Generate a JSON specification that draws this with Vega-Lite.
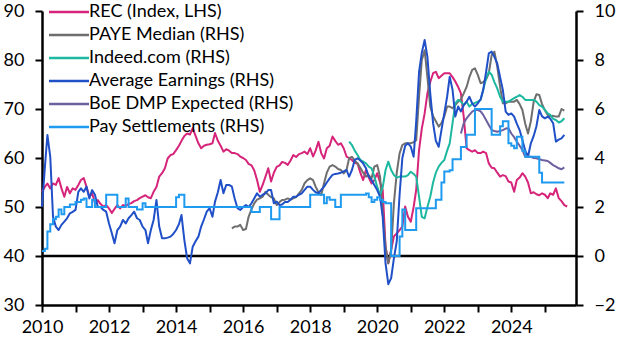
{
"$schema": "https://vega.github.io/schema/vega-lite/v6.json",
"width": 534, "height": 294,
"autosize": {"type": "none"},
"padding": {"left": 42, "top": 11, "right": 51, "bottom": 47},
"background": "white",
"config": {"view": {"stroke": null}, "font": "Lato",
  "axis": {"domainColor": "black", "domainWidth": 2.5, "tickColor": "black", "tickWidth": 2, "tickSize": 7, "labelFont": "Lato", "labelFontSize": 18, "labelColor": "black", "grid": false, "title": null}},
"datasets": {
"rec": [
{"d":"2010-01","v":53.1},{"d":"2010-02","v":54.1},{"d":"2010-03","v":54.8},{"d":"2010-04","v":53.8},{"d":"2010-05","v":54.8},{"d":"2010-06","v":54.5},{"d":"2010-07","v":55.9},{"d":"2010-08","v":53.8},{"d":"2010-09","v":52.1},{"d":"2010-10","v":54.1},{"d":"2010-11","v":52.8},{"d":"2010-12","v":53.8},
{"d":"2011-01","v":53.5},{"d":"2011-02","v":54.5},{"d":"2011-03","v":55.5},{"d":"2011-04","v":55.9},{"d":"2011-05","v":54.1},{"d":"2011-06","v":52.1},{"d":"2011-07","v":52.8},{"d":"2011-08","v":50.8},{"d":"2011-09","v":51.4},{"d":"2011-10","v":50.6},{"d":"2011-11","v":50.1},{"d":"2011-12","v":50.4},
{"d":"2012-01","v":49.7},{"d":"2012-02","v":48.8},{"d":"2012-03","v":49.6},{"d":"2012-04","v":50.4},{"d":"2012-05","v":49.7},{"d":"2012-06","v":50.4},{"d":"2012-07","v":50.2},{"d":"2012-08","v":50.6},{"d":"2012-09","v":50.8},{"d":"2012-10","v":51.2},{"d":"2012-11","v":51.4},{"d":"2012-12","v":51.8},
{"d":"2013-01","v":52.1},{"d":"2013-02","v":52.4},{"d":"2013-03","v":52.0},{"d":"2013-04","v":51.8},{"d":"2013-05","v":53.1},{"d":"2013-06","v":54.1},{"d":"2013-07","v":56.2},{"d":"2013-08","v":56.9},{"d":"2013-09","v":57.9},{"d":"2013-10","v":59.9},{"d":"2013-11","v":60.6},{"d":"2013-12","v":60.8},
{"d":"2014-01","v":61.6},{"d":"2014-02","v":62.5},{"d":"2014-03","v":63.5},{"d":"2014-04","v":64.5},{"d":"2014-05","v":65},{"d":"2014-06","v":64.8},{"d":"2014-07","v":66.1},{"d":"2014-08","v":64.5},{"d":"2014-09","v":63},{"d":"2014-10","v":62},{"d":"2014-11","v":62.5},{"d":"2014-12","v":62.7},
{"d":"2015-01","v":62.8},{"d":"2015-02","v":63},{"d":"2015-03","v":65.1},{"d":"2015-04","v":63.5},{"d":"2015-05","v":62.5},{"d":"2015-06","v":61.3},{"d":"2015-07","v":61.8},{"d":"2015-08","v":61.5},{"d":"2015-09","v":61},{"d":"2015-10","v":61},{"d":"2015-11","v":60.8},{"d":"2015-12","v":60.3},
{"d":"2016-01","v":60},{"d":"2016-02","v":59.6},{"d":"2016-03","v":58.8},{"d":"2016-04","v":58.5},{"d":"2016-05","v":57.5},{"d":"2016-06","v":55.5},{"d":"2016-07","v":53.1},{"d":"2016-08","v":54.5},{"d":"2016-09","v":56.2},{"d":"2016-10","v":57.9},{"d":"2016-11","v":55.2},{"d":"2016-12","v":57},
{"d":"2017-01","v":58.2},{"d":"2017-02","v":58.5},{"d":"2017-03","v":59.2},{"d":"2017-04","v":59},{"d":"2017-05","v":58.6},{"d":"2017-06","v":59.5},{"d":"2017-07","v":60.6},{"d":"2017-08","v":60.2},{"d":"2017-09","v":60.8},{"d":"2017-10","v":61},{"d":"2017-11","v":61.3},{"d":"2017-12","v":60.8},
{"d":"2018-01","v":62},{"d":"2018-02","v":60.3},{"d":"2018-03","v":61.5},{"d":"2018-04","v":63.3},{"d":"2018-05","v":61},{"d":"2018-06","v":59.9},{"d":"2018-07","v":62},{"d":"2018-08","v":62.5},{"d":"2018-09","v":64.4},{"d":"2018-10","v":63.5},{"d":"2018-11","v":62.7},{"d":"2018-12","v":63},
{"d":"2019-01","v":62},{"d":"2019-02","v":60.3},{"d":"2019-03","v":60},{"d":"2019-04","v":59.6},{"d":"2019-05","v":59},{"d":"2019-06","v":58.9},{"d":"2019-07","v":57},{"d":"2019-08","v":55.5},{"d":"2019-09","v":57.6},{"d":"2019-10","v":56},{"d":"2019-11","v":54.8},{"d":"2019-12","v":55.5},
{"d":"2020-01","v":56.9},{"d":"2020-02","v":55},{"d":"2020-03","v":53.5},{"d":"2020-04","v":41.9},{"d":"2020-05","v":38.5},{"d":"2020-06","v":41.2},{"d":"2020-07","v":44},{"d":"2020-08","v":44.6},{"d":"2020-09","v":45.3},{"d":"2020-10","v":46},{"d":"2020-11","v":50.1},{"d":"2020-12","v":48},
{"d":"2021-01","v":47},{"d":"2021-02","v":50},{"d":"2021-03","v":53.5},{"d":"2021-04","v":61.6},{"d":"2021-05","v":66},{"d":"2021-06","v":69.1},{"d":"2021-07","v":73.2},{"d":"2021-08","v":75.5},{"d":"2021-09","v":77.3},{"d":"2021-10","v":77.6},{"d":"2021-11","v":76.3},{"d":"2021-12","v":76.8},
{"d":"2022-01","v":77.3},{"d":"2022-02","v":77.3},{"d":"2022-03","v":77.3},{"d":"2022-04","v":76.5},{"d":"2022-05","v":75.6},{"d":"2022-06","v":74.5},{"d":"2022-07","v":73.2},{"d":"2022-08","v":68.4},{"d":"2022-09","v":62},{"d":"2022-10","v":61.6},{"d":"2022-11","v":61.3},{"d":"2022-12","v":61.6},
{"d":"2023-01","v":61},{"d":"2023-02","v":61},{"d":"2023-03","v":61.3},{"d":"2023-04","v":61},{"d":"2023-05","v":58.9},{"d":"2023-06","v":58},{"d":"2023-07","v":57.9},{"d":"2023-08","v":57},{"d":"2023-09","v":56.2},{"d":"2023-10","v":56.5},{"d":"2023-11","v":56.3},{"d":"2023-12","v":55.2},
{"d":"2024-01","v":55},{"d":"2024-02","v":53.1},{"d":"2024-03","v":55.5},{"d":"2024-04","v":56},{"d":"2024-05","v":56.9},{"d":"2024-06","v":56.2},{"d":"2024-07","v":55},{"d":"2024-08","v":52.8},{"d":"2024-09","v":53},{"d":"2024-10","v":52.6},{"d":"2024-11","v":52.4},{"d":"2024-12","v":52.8},
{"d":"2025-01","v":52.5},{"d":"2025-02","v":51.8},{"d":"2025-03","v":52.8},{"d":"2025-04","v":52.5},{"d":"2025-05","v":53.8},{"d":"2025-06","v":51.8},{"d":"2025-07","v":51.2},{"d":"2025-08","v":50.4},{"d":"2025-09","v":50.1}
],
"paye": [
{"d":"2015-09","v":1.13},{"d":"2015-10","v":1.2},{"d":"2015-11","v":1.2},{"d":"2015-12","v":1.27},
{"d":"2016-01","v":1.06},{"d":"2016-02","v":1.1},{"d":"2016-03","v":1.6},{"d":"2016-04","v":1.9},{"d":"2016-05","v":2.15},{"d":"2016-06","v":2.3},{"d":"2016-07","v":2.35},{"d":"2016-08","v":2.42},{"d":"2016-09","v":2.62},{"d":"2016-10","v":2.5},{"d":"2016-11","v":2.4},{"d":"2016-12","v":2.35},
{"d":"2017-01","v":2.08},{"d":"2017-02","v":2.2},{"d":"2017-03","v":2.29},{"d":"2017-04","v":2.3},{"d":"2017-05","v":2.35},{"d":"2017-06","v":2.3},{"d":"2017-07","v":2.35},{"d":"2017-08","v":2.4},{"d":"2017-09","v":2.56},{"d":"2017-10","v":2.7},{"d":"2017-11","v":2.97},{"d":"2017-12","v":3.1},
{"d":"2018-01","v":3.17},{"d":"2018-02","v":3.1},{"d":"2018-03","v":2.83},{"d":"2018-04","v":2.6},{"d":"2018-05","v":2.49},{"d":"2018-06","v":2.97},{"d":"2018-07","v":3.4},{"d":"2018-08","v":3.65},{"d":"2018-09","v":3.71},{"d":"2018-10","v":3.65},{"d":"2018-11","v":3.55},{"d":"2018-12","v":3.51},
{"d":"2019-01","v":3.37},{"d":"2019-02","v":3.51},{"d":"2019-03","v":3.99},{"d":"2019-04","v":4.05},{"d":"2019-05","v":3.9},{"d":"2019-06","v":3.78},{"d":"2019-07","v":3.6},{"d":"2019-08","v":3.4},{"d":"2019-09","v":3.24},{"d":"2019-10","v":3.3},{"d":"2019-11","v":3.17},{"d":"2019-12","v":3.65},
{"d":"2020-01","v":3.71},{"d":"2020-02","v":3.24},{"d":"2020-03","v":1.74},{"d":"2020-04","v":0.38},{"d":"2020-05","v":-0.3},{"d":"2020-06","v":0.24},{"d":"2020-07","v":2.15},{"d":"2020-08","v":3.4},{"d":"2020-09","v":4.19},{"d":"2020-10","v":4.53},{"d":"2020-11","v":4.6},{"d":"2020-12","v":4.6},
{"d":"2021-01","v":4.6},{"d":"2021-02","v":4.65},{"d":"2021-03","v":4.73},{"d":"2021-04","v":6.5},{"d":"2021-05","v":8.0},{"d":"2021-06","v":8.4},{"d":"2021-07","v":7.3},{"d":"2021-08","v":6.1},{"d":"2021-09","v":5.7},{"d":"2021-10","v":5.5},{"d":"2021-11","v":5.28},{"d":"2021-12","v":5.42},
{"d":"2022-01","v":5.7},{"d":"2022-02","v":6.1},{"d":"2022-03","v":6.1},{"d":"2022-04","v":6.03},{"d":"2022-05","v":6.16},{"d":"2022-06","v":6.3},{"d":"2022-07","v":6.4},{"d":"2022-08","v":6.64},{"d":"2022-09","v":6.9},{"d":"2022-10","v":7.3},{"d":"2022-11","v":7.6},{"d":"2022-12","v":7.66},
{"d":"2023-01","v":7.39},{"d":"2023-02","v":7.05},{"d":"2023-03","v":7.1},{"d":"2023-04","v":7.2},{"d":"2023-05","v":7.46},{"d":"2023-06","v":8.2},{"d":"2023-07","v":8.34},{"d":"2023-08","v":7.73},{"d":"2023-09","v":6.91},{"d":"2023-10","v":6.23},{"d":"2023-11","v":6.23},{"d":"2023-12","v":6.3},
{"d":"2024-01","v":6.3},{"d":"2024-02","v":6.3},{"d":"2024-03","v":6.37},{"d":"2024-04","v":6.2},{"d":"2024-05","v":5.96},{"d":"2024-06","v":5.4},{"d":"2024-07","v":5.0},{"d":"2024-08","v":5.5},{"d":"2024-09","v":6.3},{"d":"2024-10","v":6.6},{"d":"2024-11","v":6.57},{"d":"2024-12","v":6.2},
{"d":"2025-01","v":5.95},{"d":"2025-02","v":5.76},{"d":"2025-03","v":5.7},{"d":"2025-04","v":5.72},{"d":"2025-05","v":5.69},{"d":"2025-06","v":5.69},{"d":"2025-07","v":6.0},{"d":"2025-08","v":5.93}
],
"indeed": [
{"d":"2019-03","v":4.67},{"d":"2019-04","v":4.53},{"d":"2019-05","v":4.3},{"d":"2019-06","v":4.12},{"d":"2019-07","v":3.92},{"d":"2019-08","v":3.85},{"d":"2019-09","v":3.78},{"d":"2019-10","v":3.65},{"d":"2019-11","v":3.58},{"d":"2019-12","v":3.24},
{"d":"2020-01","v":2.83},{"d":"2020-02","v":2.5},{"d":"2020-03","v":2.8},{"d":"2020-04","v":3.51},{"d":"2020-05","v":3.85},{"d":"2020-06","v":3.51},{"d":"2020-07","v":3.31},{"d":"2020-08","v":3.2},{"d":"2020-09","v":3.24},{"d":"2020-10","v":3.24},{"d":"2020-11","v":3.24},{"d":"2020-12","v":3.3},
{"d":"2021-01","v":3.44},{"d":"2021-02","v":3.35},{"d":"2021-03","v":3.24},{"d":"2021-04","v":2.42},{"d":"2021-05","v":1.6},{"d":"2021-06","v":1.54},{"d":"2021-07","v":2.0},{"d":"2021-08","v":2.42},{"d":"2021-09","v":3.0},{"d":"2021-10","v":3.4},{"d":"2021-11","v":3.65},{"d":"2021-12","v":3.8},
{"d":"2022-01","v":3.92},{"d":"2022-02","v":4.3},{"d":"2022-03","v":4.6},{"d":"2022-04","v":5.42},{"d":"2022-05","v":6.23},{"d":"2022-06","v":6.37},{"d":"2022-07","v":6.3},{"d":"2022-08","v":6.16},{"d":"2022-09","v":6.3},{"d":"2022-10","v":6.1},{"d":"2022-11","v":6.2},{"d":"2022-12","v":6.25},
{"d":"2023-01","v":6.3},{"d":"2023-02","v":6.37},{"d":"2023-03","v":6.78},{"d":"2023-04","v":7.25},{"d":"2023-05","v":7.52},{"d":"2023-06","v":7.4},{"d":"2023-07","v":7.1},{"d":"2023-08","v":6.84},{"d":"2023-09","v":6.5},{"d":"2023-10","v":6.3},{"d":"2023-11","v":6.3},{"d":"2023-12","v":6.3},
{"d":"2024-01","v":6.37},{"d":"2024-02","v":6.44},{"d":"2024-03","v":6.5},{"d":"2024-04","v":6.57},{"d":"2024-05","v":6.5},{"d":"2024-06","v":6.37},{"d":"2024-07","v":6.37},{"d":"2024-08","v":6.37},{"d":"2024-09","v":6.37},{"d":"2024-10","v":6.3},{"d":"2024-11","v":6.16},{"d":"2024-12","v":6.1},
{"d":"2025-01","v":5.96},{"d":"2025-02","v":5.82},{"d":"2025-03","v":5.76},{"d":"2025-04","v":5.6},{"d":"2025-05","v":5.55},{"d":"2025-06","v":5.45},{"d":"2025-07","v":5.5},{"d":"2025-08","v":5.62}
],
"ae": [
{"d":"2010-01","v":2.0},{"d":"2010-02","v":3.6},{"d":"2010-03","v":4.94},{"d":"2010-04","v":4.05},{"d":"2010-05","v":1.6},{"d":"2010-06","v":1.2},{"d":"2010-07","v":1.06},{"d":"2010-08","v":1.27},{"d":"2010-09","v":1.4},{"d":"2010-10","v":1.54},{"d":"2010-11","v":1.74},{"d":"2010-12","v":1.8},
{"d":"2011-01","v":1.88},{"d":"2011-02","v":2.62},{"d":"2011-03","v":2.76},{"d":"2011-04","v":2.62},{"d":"2011-05","v":2.83},{"d":"2011-06","v":2.35},{"d":"2011-07","v":2.69},{"d":"2011-08","v":2.5},{"d":"2011-09","v":2.0},{"d":"2011-10","v":2.0},{"d":"2011-11","v":1.88},{"d":"2011-12","v":1.81},
{"d":"2012-01","v":1.33},{"d":"2012-02","v":0.93},{"d":"2012-03","v":0.52},{"d":"2012-04","v":1.06},{"d":"2012-05","v":1.2},{"d":"2012-06","v":1.47},{"d":"2012-07","v":1.33},{"d":"2012-08","v":1.54},{"d":"2012-09","v":1.67},{"d":"2012-10","v":1.81},{"d":"2012-11","v":1.54},{"d":"2012-12","v":1.47},
{"d":"2013-01","v":1.2},{"d":"2013-02","v":1.06},{"d":"2013-03","v":0.52},{"d":"2013-04","v":1.06},{"d":"2013-05","v":1.47},{"d":"2013-06","v":2.29},{"d":"2013-07","v":1.2},{"d":"2013-08","v":0.72},{"d":"2013-09","v":0.72},{"d":"2013-10","v":0.75},{"d":"2013-11","v":0.79},{"d":"2013-12","v":0.9},
{"d":"2014-01","v":1.06},{"d":"2014-02","v":1.3},{"d":"2014-03","v":1.67},{"d":"2014-04","v":0.65},{"d":"2014-05","v":-0.09},{"d":"2014-06","v":-0.3},{"d":"2014-07","v":0.38},{"d":"2014-08","v":0.6},{"d":"2014-09","v":0.79},{"d":"2014-10","v":1.2},{"d":"2014-11","v":1.5},{"d":"2014-12","v":1.81},
{"d":"2015-01","v":1.95},{"d":"2015-02","v":1.6},{"d":"2015-03","v":2.22},{"d":"2015-04","v":2.6},{"d":"2015-05","v":3.1},{"d":"2015-06","v":2.56},{"d":"2015-07","v":2.9},{"d":"2015-08","v":2.9},{"d":"2015-09","v":2.83},{"d":"2015-10","v":2.35},{"d":"2015-11","v":1.95},{"d":"2015-12","v":1.88},
{"d":"2016-01","v":2.0},{"d":"2016-02","v":2.08},{"d":"2016-03","v":2.0},{"d":"2016-04","v":2.15},{"d":"2016-05","v":2.35},{"d":"2016-06","v":2.56},{"d":"2016-07","v":2.42},{"d":"2016-08","v":2.5},{"d":"2016-09","v":2.56},{"d":"2016-10","v":2.69},{"d":"2016-11","v":2.69},{"d":"2016-12","v":2.15},
{"d":"2017-01","v":2.22},{"d":"2017-02","v":2.08},{"d":"2017-03","v":2.1},{"d":"2017-04","v":2.2},{"d":"2017-05","v":2.2},{"d":"2017-06","v":2.3},{"d":"2017-07","v":2.42},{"d":"2017-08","v":2.42},{"d":"2017-09","v":2.5},{"d":"2017-10","v":2.56},{"d":"2017-11","v":2.7},{"d":"2017-12","v":2.83},
{"d":"2018-01","v":2.83},{"d":"2018-02","v":2.7},{"d":"2018-03","v":2.6},{"d":"2018-04","v":2.56},{"d":"2018-05","v":2.7},{"d":"2018-06","v":2.83},{"d":"2018-07","v":3.0},{"d":"2018-08","v":3.17},{"d":"2018-09","v":3.31},{"d":"2018-10","v":3.35},{"d":"2018-11","v":3.37},{"d":"2018-12","v":3.4},
{"d":"2019-01","v":3.45},{"d":"2019-02","v":3.51},{"d":"2019-03","v":3.24},{"d":"2019-04","v":3.51},{"d":"2019-05","v":3.92},{"d":"2019-06","v":3.99},{"d":"2019-07","v":3.9},{"d":"2019-08","v":3.78},{"d":"2019-09","v":3.58},{"d":"2019-10","v":3.24},{"d":"2019-11","v":3.1},{"d":"2019-12","v":2.9},
{"d":"2020-01","v":2.69},{"d":"2020-02","v":2.42},{"d":"2020-03","v":1.6},{"d":"2020-04","v":-0.3},{"d":"2020-05","v":-1.15},{"d":"2020-06","v":-0.9},{"d":"2020-07","v":-0.1},{"d":"2020-08","v":0.6},{"d":"2020-09","v":2.5},{"d":"2020-10","v":4.0},{"d":"2020-11","v":4.5},{"d":"2020-12","v":4.6},
{"d":"2021-01","v":4.46},{"d":"2021-02","v":4.05},{"d":"2021-03","v":5.5},{"d":"2021-04","v":7.5},{"d":"2021-05","v":8.3},{"d":"2021-06","v":8.82},{"d":"2021-07","v":8.13},{"d":"2021-08","v":6.64},{"d":"2021-09","v":5.42},{"d":"2021-10","v":4.7},{"d":"2021-11","v":4.46},{"d":"2021-12","v":5.14},
{"d":"2022-01","v":5.82},{"d":"2022-02","v":6.5},{"d":"2022-03","v":7.32},{"d":"2022-04","v":6.78},{"d":"2022-05","v":5.69},{"d":"2022-06","v":6.1},{"d":"2022-07","v":5.9},{"d":"2022-08","v":6.16},{"d":"2022-09","v":6.3},{"d":"2022-10","v":6.5},{"d":"2022-11","v":6.23},{"d":"2022-12","v":6.1},
{"d":"2023-01","v":6.23},{"d":"2023-02","v":6.4},{"d":"2023-03","v":6.78},{"d":"2023-04","v":7.5},{"d":"2023-05","v":8.27},{"d":"2023-06","v":8.34},{"d":"2023-07","v":8.13},{"d":"2023-08","v":7.86},{"d":"2023-09","v":7.3},{"d":"2023-10","v":6.78},{"d":"2023-11","v":5.89},{"d":"2023-12","v":5.76},
{"d":"2024-01","v":5.82},{"d":"2024-02","v":5.69},{"d":"2024-03","v":5.4},{"d":"2024-04","v":5.14},{"d":"2024-05","v":4.73},{"d":"2024-06","v":4.3},{"d":"2024-07","v":4.05},{"d":"2024-08","v":4.6},{"d":"2024-09","v":4.9},{"d":"2024-10","v":5.3},{"d":"2024-11","v":5.96},{"d":"2024-12","v":5.7},
{"d":"2025-01","v":5.62},{"d":"2025-02","v":5.69},{"d":"2025-03","v":5.6},{"d":"2025-04","v":5.42},{"d":"2025-05","v":4.67},{"d":"2025-06","v":4.75},{"d":"2025-07","v":4.8},{"d":"2025-08","v":4.94}
],
"boe": [
{"d":"2022-07","v":5.0},{"d":"2022-08","v":5.42},{"d":"2022-09","v":5.62},{"d":"2022-10","v":5.76},{"d":"2022-11","v":5.89},{"d":"2022-12","v":5.96},
{"d":"2023-01","v":5.96},{"d":"2023-02","v":5.9},{"d":"2023-03","v":5.76},{"d":"2023-04","v":5.55},{"d":"2023-05","v":5.35},{"d":"2023-06","v":5.14},{"d":"2023-07","v":5.1},{"d":"2023-08","v":5.07},{"d":"2023-09","v":5.1},{"d":"2023-10","v":5.14},{"d":"2023-11","v":5.2},{"d":"2023-12","v":5.21},
{"d":"2024-01","v":5.0},{"d":"2024-02","v":4.85},{"d":"2024-03","v":4.67},{"d":"2024-04","v":4.5},{"d":"2024-05","v":4.33},{"d":"2024-06","v":4.05},{"d":"2024-07","v":4.05},{"d":"2024-08","v":4.05},{"d":"2024-09","v":4.0},{"d":"2024-10","v":3.99},{"d":"2024-11","v":3.95},{"d":"2024-12","v":3.92},
{"d":"2025-01","v":3.9},{"d":"2025-02","v":3.88},{"d":"2025-03","v":3.8},{"d":"2025-04","v":3.71},{"d":"2025-05","v":3.65},{"d":"2025-06","v":3.58},{"d":"2025-07","v":3.54},{"d":"2025-08","v":3.62}
],
"pay": [
{"d":"2010-01","v":0.2},{"d":"2010-02","v":0.3},{"d":"2010-03","v":1.0},{"d":"2010-04","v":1.3},{"d":"2010-05","v":1.5},{"d":"2010-06","v":1.6},{"d":"2010-07","v":1.9},{"d":"2010-08","v":1.7},{"d":"2010-09","v":2.0},{"d":"2010-11","v":2.1},
{"d":"2011-01","v":2.2},{"d":"2011-03","v":2.3},{"d":"2011-04","v":2.35},{"d":"2011-05","v":2.0},{"d":"2011-07","v":2.3},{"d":"2011-08","v":2.0},{"d":"2011-12","v":2.5},
{"d":"2012-04","v":2.0},{"d":"2012-07","v":2.35},{"d":"2012-08","v":2.0},{"d":"2012-11","v":1.9},{"d":"2013-01","v":2.15},{"d":"2013-02","v":2.0},
{"d":"2014-01","v":2.4},{"d":"2014-02","v":2.5},{"d":"2014-04","v":2.0},{"d":"2016-04","v":1.8},{"d":"2016-07","v":2.0},{"d":"2016-11","v":1.5},{"d":"2017-02","v":2.0},
{"d":"2018-01","v":2.5},{"d":"2018-06","v":2.15},{"d":"2018-07","v":2.4},{"d":"2018-08","v":2.3},{"d":"2018-10","v":2.0},{"d":"2018-12","v":2.5},
{"d":"2019-09","v":2.55},{"d":"2019-10","v":2.4},{"d":"2019-11","v":2.2},{"d":"2019-12","v":2.3},{"d":"2020-01","v":2.4},{"d":"2020-02","v":2.3},{"d":"2020-03","v":2.2},{"d":"2020-04","v":2.15},
{"d":"2020-06","v":0.0},{"d":"2020-09","v":0.8},{"d":"2020-10","v":1.9},{"d":"2020-11","v":1.06},{"d":"2021-03","v":1.95},{"d":"2021-10","v":2.3},{"d":"2021-12","v":3.0},
{"d":"2022-01","v":3.45},{"d":"2022-03","v":3.5},{"d":"2022-04","v":3.95},{"d":"2022-07","v":4.45},{"d":"2022-09","v":4.95},{"d":"2022-12","v":6.0},
{"d":"2023-06","v":4.95},{"d":"2023-09","v":5.3},{"d":"2023-10","v":5.5},{"d":"2023-12","v":4.6},{"d":"2024-01","v":4.5},{"d":"2024-02","v":4.4},{"d":"2024-03","v":4.87},{"d":"2024-05","v":4.3},{"d":"2024-06","v":4.05},{"d":"2024-11","v":3.4},{"d":"2024-12","v":3.0},{"d":"2025-08","v":3.0}
]
},
"layer": [
 {
  "data": {"name": "rec"},
  "mark": {"type": "line", "strokeWidth": 2, "strokeJoin": "round"},
  "encoding": {
   "x": {"field": "d", "type": "temporal", "scale": {"type": "utc", "domain": [{"year": 2010, "month": 1, "date": 1, "utc": true}, {"year": 2025, "month": 12, "date": 6, "utc": true}]}, "axis": {"orient": "bottom", "tickCount": {"interval": "year", "step": 1}, "labelExpr": "utcyear(datum.value) % 2 === 0 ? utcFormat(datum.value, '%Y') : ''", "labelOverlap": false, "labelFlush": false, "labelPadding": 6}},
   "y": {"field": "v", "type": "quantitative", "scale": {"domain": [30, 90], "nice": false, "zero": false}, "axis": {"orient": "left", "values": [30, 40, 50, 60, 70, 80, 90], "labelPadding": 11}},
   "color": {"datum": "REC (Index, LHS)", "type": "nominal",
     "scale": {"domain": ["REC (Index, LHS)", "PAYE Median (RHS)", "Indeed.com (RHS)", "Average Earnings (RHS)", "BoE DMP Expected (RHS)", "Pay Settlements (RHS)"], "range": ["#d6247a", "#6e6e6e", "#1db8a0", "#2050c8", "#6e5fa0", "#1e9af0"]},
     "legend": {"orient": "none", "legendX": 18, "legendY": -8, "title": null, "symbolType": "M-4,0H4", "symbolSize": 100, "symbolStrokeWidth": 2.5, "labelFont": "Lato", "labelFontSize": 18, "labelColor": "black", "labelOffset": 11, "labelLimit": 0, "rowPadding": 5, "padding": 0}}
  }
 },
 {
  "layer": [
   {"data": {"values": [{"v": 0}]}, "mark": {"type": "rule", "color": "black", "strokeWidth": 2.5},
    "encoding": {"y": {"field": "v", "type": "quantitative", "scale": {"domain": [-2, 10], "nice": false, "zero": false}, "axis": {"orient": "right", "values": [-2, 0, 2, 4, 6, 8, 10], "labelPadding": 11}}}},
   {"data": {"name": "paye"}, "mark": {"type": "line", "strokeWidth": 2, "strokeJoin": "round"},
    "encoding": {"x": {"field": "d", "type": "temporal"}, "y": {"field": "v", "type": "quantitative", "scale": {"domain": [-2, 10], "nice": false, "zero": false}, "axis": {"orient": "right", "values": [-2, 0, 2, 4, 6, 8, 10], "labelPadding": 11}}, "color": {"datum": "PAYE Median (RHS)", "type": "nominal"}}},
   {"data": {"name": "indeed"}, "mark": {"type": "line", "strokeWidth": 2, "strokeJoin": "round"},
    "encoding": {"x": {"field": "d", "type": "temporal"}, "y": {"field": "v", "type": "quantitative", "scale": {"domain": [-2, 10], "nice": false, "zero": false}, "axis": {"orient": "right", "values": [-2, 0, 2, 4, 6, 8, 10], "labelPadding": 11}}, "color": {"datum": "Indeed.com (RHS)", "type": "nominal"}}},
   {"data": {"name": "ae"}, "mark": {"type": "line", "strokeWidth": 2, "strokeJoin": "round"},
    "encoding": {"x": {"field": "d", "type": "temporal"}, "y": {"field": "v", "type": "quantitative", "scale": {"domain": [-2, 10], "nice": false, "zero": false}, "axis": {"orient": "right", "values": [-2, 0, 2, 4, 6, 8, 10], "labelPadding": 11}}, "color": {"datum": "Average Earnings (RHS)", "type": "nominal"}}},
   {"data": {"name": "boe"}, "mark": {"type": "line", "strokeWidth": 2, "strokeJoin": "round"},
    "encoding": {"x": {"field": "d", "type": "temporal"}, "y": {"field": "v", "type": "quantitative", "scale": {"domain": [-2, 10], "nice": false, "zero": false}, "axis": {"orient": "right", "values": [-2, 0, 2, 4, 6, 8, 10], "labelPadding": 11}}, "color": {"datum": "BoE DMP Expected (RHS)", "type": "nominal"}}},
   {"data": {"name": "pay"}, "mark": {"type": "line", "strokeWidth": 2, "interpolate": "step-after"},
    "encoding": {"x": {"field": "d", "type": "temporal"}, "y": {"field": "v", "type": "quantitative", "scale": {"domain": [-2, 10], "nice": false, "zero": false}, "axis": {"orient": "right", "values": [-2, 0, 2, 4, 6, 8, 10], "labelPadding": 11}}, "color": {"datum": "Pay Settlements (RHS)", "type": "nominal"}}}
  ]
 }
],
"resolve": {"scale": {"y": "independent"}}
}
